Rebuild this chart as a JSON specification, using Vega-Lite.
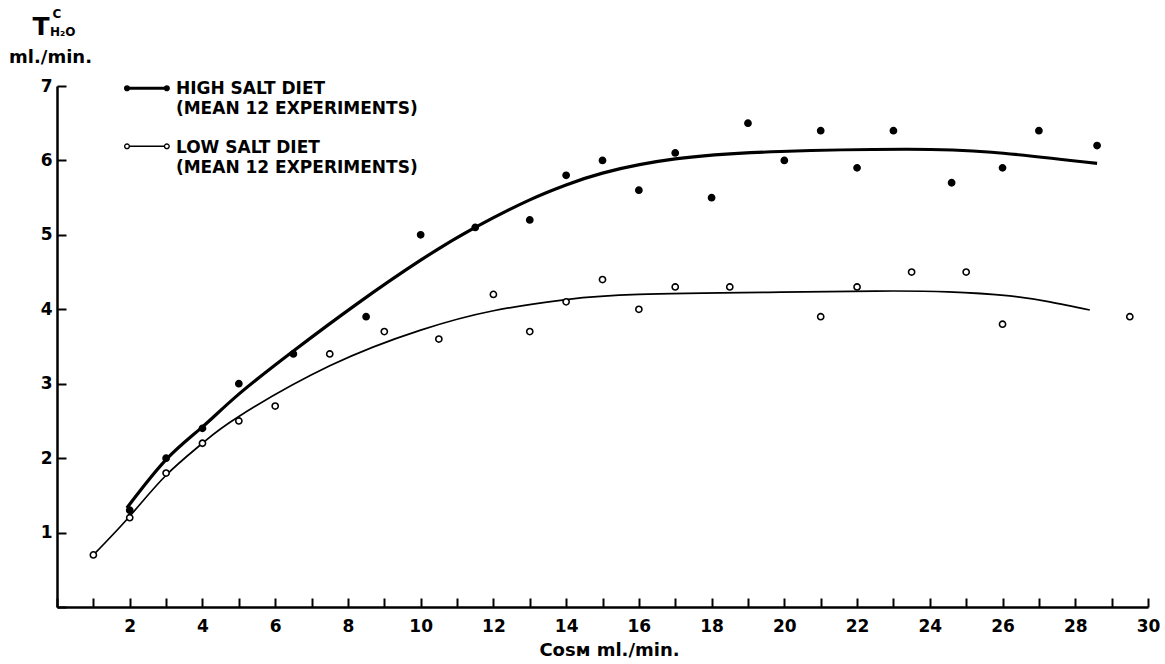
{
  "$schema": "https://vega.github.io/schema/vega-lite/v6.json",
  "width": 1091,
  "height": 521,
  "autosize": "none",
  "padding": {"left": 57, "top": 86, "right": 17, "bottom": 57},
  "background": "white",
  "config": {
    "view": {"stroke": null},
    "font": "DejaVu Sans",
    "axis": {
      "grid": false,
      "labelFont": "DejaVu Sans",
      "labelFontSize": 17,
      "labelFontWeight": "bold",
      "labelColor": "black",
      "labelOverlap": false,
      "labelFlush": false,
      "labelBound": false,
      "tickSize": -9,
      "tickWidth": 2,
      "tickColor": "black",
      "domainColor": "black",
      "domainWidth": 2.5,
      "titleFont": "DejaVu Sans",
      "titleFontSize": 18,
      "titleFontWeight": "bold",
      "titleColor": "black",
      "titleAlign": "center",
      "titleBaseline": "middle"
    },
    "axisX": {
      "tickCount": 30,
      "labelExpr": "datum.value > 0 && datum.value % 2 === 0 ? format(datum.value, 'd') : ''",
      "labelPadding": 20,
      "titleX": 552,
      "titleY": 43
    },
    "axisY": {
      "tickCount": 7,
      "labelExpr": "datum.value > 0 ? format(datum.value, 'd') : ''",
      "labelPadding": 14,
      "titleAngle": 0,
      "titleX": -7,
      "titleY": -29
    }
  },
  "datasets": {
    "points": [
      {"series": "high", "cosm": 2, "tc": 1.3},
      {"series": "high", "cosm": 3, "tc": 2.0},
      {"series": "high", "cosm": 4, "tc": 2.4},
      {"series": "high", "cosm": 5, "tc": 3.0},
      {"series": "high", "cosm": 6.5, "tc": 3.4},
      {"series": "high", "cosm": 8.5, "tc": 3.9},
      {"series": "high", "cosm": 10, "tc": 5.0},
      {"series": "high", "cosm": 11.5, "tc": 5.1},
      {"series": "high", "cosm": 13, "tc": 5.2},
      {"series": "high", "cosm": 14, "tc": 5.8},
      {"series": "high", "cosm": 15, "tc": 6.0},
      {"series": "high", "cosm": 16, "tc": 5.6},
      {"series": "high", "cosm": 17, "tc": 6.1},
      {"series": "high", "cosm": 18, "tc": 5.5},
      {"series": "high", "cosm": 19, "tc": 6.5},
      {"series": "high", "cosm": 20, "tc": 6.0},
      {"series": "high", "cosm": 21, "tc": 6.4},
      {"series": "high", "cosm": 22, "tc": 5.9},
      {"series": "high", "cosm": 23, "tc": 6.4},
      {"series": "high", "cosm": 24.6, "tc": 5.7},
      {"series": "high", "cosm": 26, "tc": 5.9},
      {"series": "high", "cosm": 27, "tc": 6.4},
      {"series": "high", "cosm": 28.6, "tc": 6.2},
      {"series": "low", "cosm": 1, "tc": 0.7},
      {"series": "low", "cosm": 2, "tc": 1.2},
      {"series": "low", "cosm": 3, "tc": 1.8},
      {"series": "low", "cosm": 4, "tc": 2.2},
      {"series": "low", "cosm": 5, "tc": 2.5},
      {"series": "low", "cosm": 6, "tc": 2.7},
      {"series": "low", "cosm": 7.5, "tc": 3.4},
      {"series": "low", "cosm": 9, "tc": 3.7},
      {"series": "low", "cosm": 10.5, "tc": 3.6},
      {"series": "low", "cosm": 12, "tc": 4.2},
      {"series": "low", "cosm": 13, "tc": 3.7},
      {"series": "low", "cosm": 14, "tc": 4.1},
      {"series": "low", "cosm": 15, "tc": 4.4},
      {"series": "low", "cosm": 16, "tc": 4.0},
      {"series": "low", "cosm": 17, "tc": 4.3},
      {"series": "low", "cosm": 18.5, "tc": 4.3},
      {"series": "low", "cosm": 21, "tc": 3.9},
      {"series": "low", "cosm": 22, "tc": 4.3},
      {"series": "low", "cosm": 23.5, "tc": 4.5},
      {"series": "low", "cosm": 25, "tc": 4.5},
      {"series": "low", "cosm": 26, "tc": 3.8},
      {"series": "low", "cosm": 29.5, "tc": 3.9}
    ],
    "curves": [
      {"series": "high", "cosm": 1.92, "tc": 1.33},
      {"series": "high", "cosm": 3, "tc": 1.98},
      {"series": "high", "cosm": 4, "tc": 2.42},
      {"series": "high", "cosm": 5, "tc": 2.86},
      {"series": "high", "cosm": 6.5, "tc": 3.44},
      {"series": "high", "cosm": 8.24, "tc": 4.07},
      {"series": "high", "cosm": 10, "tc": 4.66},
      {"series": "high", "cosm": 11.5, "tc": 5.1},
      {"series": "high", "cosm": 13, "tc": 5.47},
      {"series": "high", "cosm": 14, "tc": 5.67},
      {"series": "high", "cosm": 15, "tc": 5.83},
      {"series": "high", "cosm": 17, "tc": 6.02},
      {"series": "high", "cosm": 19.9, "tc": 6.12},
      {"series": "high", "cosm": 23.3, "tc": 6.15},
      {"series": "high", "cosm": 25.7, "tc": 6.11},
      {"series": "high", "cosm": 28.6, "tc": 5.96},
      {"series": "low", "cosm": 1, "tc": 0.7},
      {"series": "low", "cosm": 2, "tc": 1.22},
      {"series": "low", "cosm": 3, "tc": 1.77},
      {"series": "low", "cosm": 4, "tc": 2.2},
      {"series": "low", "cosm": 5, "tc": 2.56},
      {"series": "low", "cosm": 7.5, "tc": 3.24},
      {"series": "low", "cosm": 10, "tc": 3.72},
      {"series": "low", "cosm": 12, "tc": 3.98},
      {"series": "low", "cosm": 14, "tc": 4.13},
      {"series": "low", "cosm": 16, "tc": 4.2},
      {"series": "low", "cosm": 19.9, "tc": 4.23},
      {"series": "low", "cosm": 22.5, "tc": 4.245},
      {"series": "low", "cosm": 24.5, "tc": 4.235},
      {"series": "low", "cosm": 26.2, "tc": 4.18},
      {"series": "low", "cosm": 27.3, "tc": 4.1},
      {"series": "low", "cosm": 28.4, "tc": 3.99}
    ]
  },
  "layer": [
    {
      "data": {"name": "curves"},
      "mark": {"type": "line", "interpolate": "natural", "color": "black"},
      "encoding": {
        "x": {
          "field": "cosm",
          "type": "quantitative",
          "scale": {"domain": [0, 30], "nice": false, "zero": false},
          "axis": {"title": "Cᴏꜱᴍ ml./min."}
        },
        "y": {
          "field": "tc",
          "type": "quantitative",
          "scale": {"domain": [0, 7], "nice": false, "zero": true},
          "axis": {"title": "ml./min."}
        },
        "detail": {"field": "series", "type": "nominal"},
        "strokeWidth": {"field": "series", "type": "nominal", "scale": {"domain": ["high", "low"], "range": [3.2, 1.7]}, "legend": null}
      }
    },
    {
      "data": {"name": "points"},
      "mark": {"type": "point", "shape": "circle", "filled": true, "stroke": "black", "strokeWidth": 1.6, "size": 38, "opacity": 1},
      "encoding": {
        "x": {"field": "cosm", "type": "quantitative"},
        "y": {"field": "tc", "type": "quantitative"},
        "fill": {"field": "series", "type": "nominal", "scale": {"domain": ["high", "low"], "range": ["black", "white"]}, "legend": null}
      }
    },
    {
      "data": {"values": [{}]},
      "mark": {"type": "rule", "color": "black", "strokeWidth": 3},
      "encoding": {"x": {"datum": 1.925}, "x2": {"datum": 3.02}, "y": {"datum": 6.97}}
    },
    {
      "data": {"values": [{}]},
      "mark": {"type": "rule", "color": "black", "strokeWidth": 1.6},
      "encoding": {"x": {"datum": 1.925}, "x2": {"datum": 3.02}, "y": {"datum": 6.19}}
    },
    {
      "data": {"values": [{}]},
      "mark": {"type": "point", "shape": "circle", "filled": true, "fill": "black", "stroke": "black", "strokeWidth": 1.4, "size": 22, "opacity": 1},
      "encoding": {"x": {"datum": 1.925}, "y": {"datum": 6.97}}
    },
    {
      "data": {"values": [{}]},
      "mark": {"type": "point", "shape": "circle", "filled": true, "fill": "black", "stroke": "black", "strokeWidth": 1.4, "size": 22, "opacity": 1},
      "encoding": {"x": {"datum": 3.02}, "y": {"datum": 6.97}}
    },
    {
      "data": {"values": [{}]},
      "mark": {"type": "point", "shape": "circle", "filled": true, "fill": "white", "stroke": "black", "strokeWidth": 1.4, "size": 22, "opacity": 1},
      "encoding": {"x": {"datum": 1.925}, "y": {"datum": 6.19}}
    },
    {
      "data": {"values": [{}]},
      "mark": {"type": "point", "shape": "circle", "filled": true, "fill": "white", "stroke": "black", "strokeWidth": 1.4, "size": 22, "opacity": 1},
      "encoding": {"x": {"datum": 3.02}, "y": {"datum": 6.19}}
    },
    {
      "data": {"values": [{}]},
      "mark": {"type": "text", "align": "left", "baseline": "middle", "font": "DejaVu Sans", "fontWeight": "bold", "fontSize": 17, "lineHeight": 20, "color": "black", "text": ["HIGH SALT  DIET", "(MEAN 12 EXPERIMENTS)"]},
      "encoding": {"x": {"datum": 3.27}, "y": {"datum": 6.96}}
    },
    {
      "data": {"values": [{}]},
      "mark": {"type": "text", "align": "left", "baseline": "middle", "font": "DejaVu Sans", "fontWeight": "bold", "fontSize": 17, "lineHeight": 20, "color": "black", "text": ["LOW SALT  DIET", "(MEAN 12 EXPERIMENTS)"]},
      "encoding": {"x": {"datum": 3.27}, "y": {"datum": 6.17}}
    },
    {
      "data": {"values": [{}]},
      "mark": {"type": "text", "align": "center", "baseline": "middle", "font": "DejaVu Sans", "fontWeight": "bold", "fontSize": 25, "color": "black", "text": "T"},
      "encoding": {"x": {"datum": -0.44}, "y": {"datum": 7.79}}
    },
    {
      "data": {"values": [{}]},
      "mark": {"type": "text", "align": "center", "baseline": "middle", "font": "DejaVu Sans", "fontWeight": "bold", "fontSize": 12, "color": "black", "text": "C"},
      "encoding": {"x": {"datum": 0.0}, "y": {"datum": 7.97}}
    },
    {
      "data": {"values": [{}]},
      "mark": {"type": "text", "align": "center", "baseline": "middle", "font": "DejaVu Sans", "fontWeight": "bold", "fontSize": 12, "color": "black", "text": "H₂O"},
      "encoding": {"x": {"datum": 0.16}, "y": {"datum": 7.72}}
    }
  ]
}
